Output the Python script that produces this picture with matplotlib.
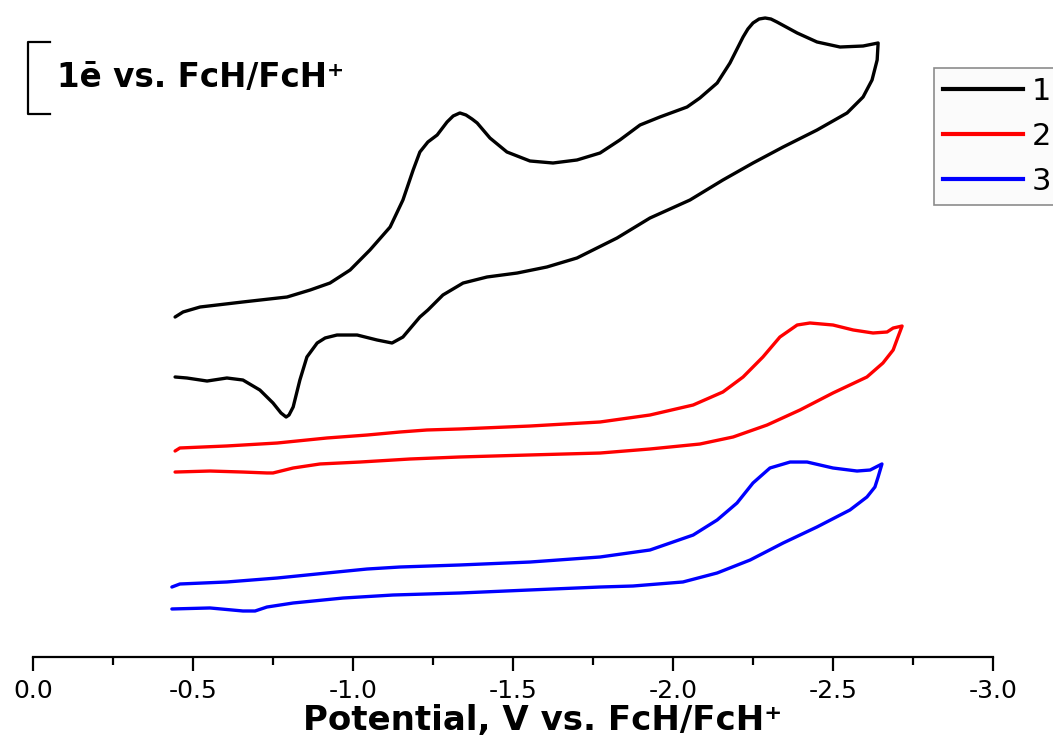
import matplotlib
matplotlib.use("Agg")
import matplotlib.pyplot as plt
from matplotlib.ticker import MultipleLocator, FormatStrFormatter
from matplotlib.lines import Line2D

plt.rcParams['axes.unicode_minus'] = False
plt.rcParams['font.family'] = ['DejaVu Sans']

# ---- data: potential (V vs FcH/FcH+) and current (offset, units of 1 e-) ----
e1 = [-0.444, -0.469, -0.522, -0.656, -0.794, -0.866, -0.928, -0.991, -1.053, -1.116,
      -1.156, -1.188, -1.209, -1.234, -1.263, -1.294, -1.313, -1.334, -1.353, -1.372,
      -1.388, -1.428,
      -1.481, -1.553, -1.625, -1.700, -1.772, -1.834, -1.897, -1.959, -2.044, -2.084,
      -2.138, -2.178, -2.219, -2.234, -2.250, -2.269, -2.288, -2.306, -2.325, -2.388,
      -2.450, -2.522, -2.594, -2.641,
      -2.638, -2.622, -2.594, -2.544, -2.450, -2.344, -2.250, -2.156, -2.053, -1.928,
      -1.825, -1.700, -1.606, -1.513, -1.419, -1.344, -1.281, -1.234, -1.209, -1.156,
      -1.122, -1.075, -1.013, -0.950, -0.913, -0.888, -0.856, -0.834, -0.813, -0.800,
      -0.791, -0.775, -0.750, -0.709, -0.656, -0.606, -0.544, -0.481, -0.444]
i1 = [4.722, 4.792, 4.861, 4.931, 5.000, 5.097, 5.194, 5.375, 5.653, 5.972,
      6.347, 6.764, 7.014, 7.153, 7.250, 7.431, 7.514, 7.556, 7.528, 7.472,
      7.417, 7.208,
      7.014, 6.889, 6.861, 6.903, 7.000, 7.181, 7.389, 7.500, 7.639, 7.764,
      7.972, 8.250, 8.611, 8.722, 8.806, 8.861, 8.875, 8.861, 8.819, 8.667,
      8.542, 8.472, 8.486, 8.528,
      8.292, 8.014, 7.778, 7.556, 7.319, 7.083, 6.861, 6.625, 6.347, 6.097,
      5.819, 5.542, 5.417, 5.333, 5.278, 5.194, 5.028, 4.819, 4.722, 4.444,
      4.361, 4.403, 4.472, 4.472, 4.431, 4.361, 4.167, 3.847, 3.472, 3.361,
      3.333, 3.389, 3.528, 3.708, 3.847, 3.875, 3.833, 3.875, 3.889]

e2 = [-0.444, -0.459, -0.606, -0.763, -0.919, -1.044, -1.147, -1.231, -1.334, -1.553,
      -1.772, -1.928, -2.063, -2.156, -2.219, -2.281, -2.334, -2.388, -2.428, -2.500,
      -2.563, -2.625, -2.669, -2.688, -2.716,
      -2.703, -2.688, -2.656, -2.606, -2.500, -2.397, -2.294, -2.188, -2.084, -1.928,
      -1.772, -1.553, -1.334, -1.178, -1.022, -0.897, -0.813, -0.750, -0.731, -0.656,
      -0.553, -0.444]
i2 = [2.861, 2.903, 2.931, 2.972, 3.042, 3.083, 3.125, 3.153, 3.167, 3.208,
      3.264, 3.361, 3.500, 3.681, 3.889, 4.167, 4.444, 4.611, 4.639, 4.611,
      4.542, 4.500, 4.514, 4.569, 4.597,
      4.444, 4.264, 4.083, 3.889, 3.667, 3.431, 3.222, 3.056, 2.958, 2.889,
      2.833, 2.806, 2.778, 2.750, 2.708, 2.681, 2.625, 2.556, 2.556, 2.569,
      2.583, 2.569]

e3 = [-0.434, -0.459, -0.606, -0.763, -0.919, -1.044, -1.147, -1.334, -1.553, -1.772,
      -1.928, -2.063, -2.138, -2.200, -2.250, -2.303, -2.366, -2.419, -2.500, -2.575,
      -2.616, -2.653,
      -2.641, -2.631, -2.606, -2.553, -2.450, -2.344, -2.241, -2.138, -2.031, -1.875,
      -1.772, -1.553, -1.334, -1.125, -0.969, -0.813, -0.731, -0.694, -0.656, -0.553,
      -0.434]
i3 = [0.972, 1.014, 1.042, 1.097, 1.167, 1.222, 1.250, 1.278, 1.319, 1.389,
      1.486, 1.694, 1.903, 2.139, 2.417, 2.625, 2.708, 2.708, 2.625, 2.583,
      2.597, 2.681,
      2.500, 2.361, 2.222, 2.042, 1.806, 1.583, 1.347, 1.167, 1.042, 0.986,
      0.972, 0.931, 0.889, 0.861, 0.819, 0.750, 0.694, 0.639, 0.639, 0.681,
      0.667]

labels = ["1", "2", "3"]
colors = ["#000000", "#ff0000", "#0000ff"]
xticks = [0.0, -0.5, -1.0, -1.5, -2.0, -2.5, -3.0]

fig = plt.figure(figsize=(10.53, 7.47), dpi=100)
ax = fig.add_axes([33/1053, 90/747, 960/1053, 657/747])

for e, i, c in zip([e1, e2, e3], [i1, i2, i3], colors):
    ax.plot(e, i, color=c, lw=2.4, solid_joinstyle='round', solid_capstyle='round')

ax.set_xlim(0.0, -3.0)
ax.set_ylim(0, 657/72)
for s in ['left', 'right', 'top']:
    ax.spines[s].set_visible(False)
ax.spines['bottom'].set_linewidth(1.6)
ax.set_yticks([])
ax.set_xticks(xticks)
ax.xaxis.set_minor_locator(MultipleLocator(0.25))
ax.xaxis.set_major_formatter(FormatStrFormatter('%.1f'))
ax.tick_params(axis='x', which='major', direction='out', length=10, width=1.6,
               pad=6, labelsize=18)
ax.tick_params(axis='x', which='minor', direction='out', length=6, width=1.6)
ax.set_xlabel('Potential, V vs. FcH/FcH⁺', fontsize=24.5,
              fontweight='bold', labelpad=2)
ax.xaxis.set_label_coords(0.531, -0.097)
ax.xaxis.label.set_va('center')

# scale bar (1 e-)
ax.plot([-0.053, 0.016, 0.016, -0.053], [8.54, 8.54, 7.54, 7.54], color='black',
        lw=1.6, clip_on=False)
ax.text(-0.074, 7.917, '1ē vs. FcH/FcH⁺', fontsize=23.5,
        fontweight='bold', va='baseline', ha='left')

handles = [Line2D([], [], color=c, lw=3) for c in colors]
leg = fig.legend(handles, labels, loc='upper left',
                 bbox_to_anchor=(934/1053, 1 - 68/747), borderaxespad=0,
                 frameon=True, fancybox=False, handlelength=2.6,
                 handletextpad=0.3, labelspacing=0.52, borderpad=0.3,
                 prop={'family': 'DejaVu Sans', 'size': 22})
leg.get_frame().set_edgecolor('#707070')
leg.get_frame().set_facecolor('#fafafa')
leg.get_frame().set_linewidth(1.2)

fig.savefig('out.png', dpi=100)
